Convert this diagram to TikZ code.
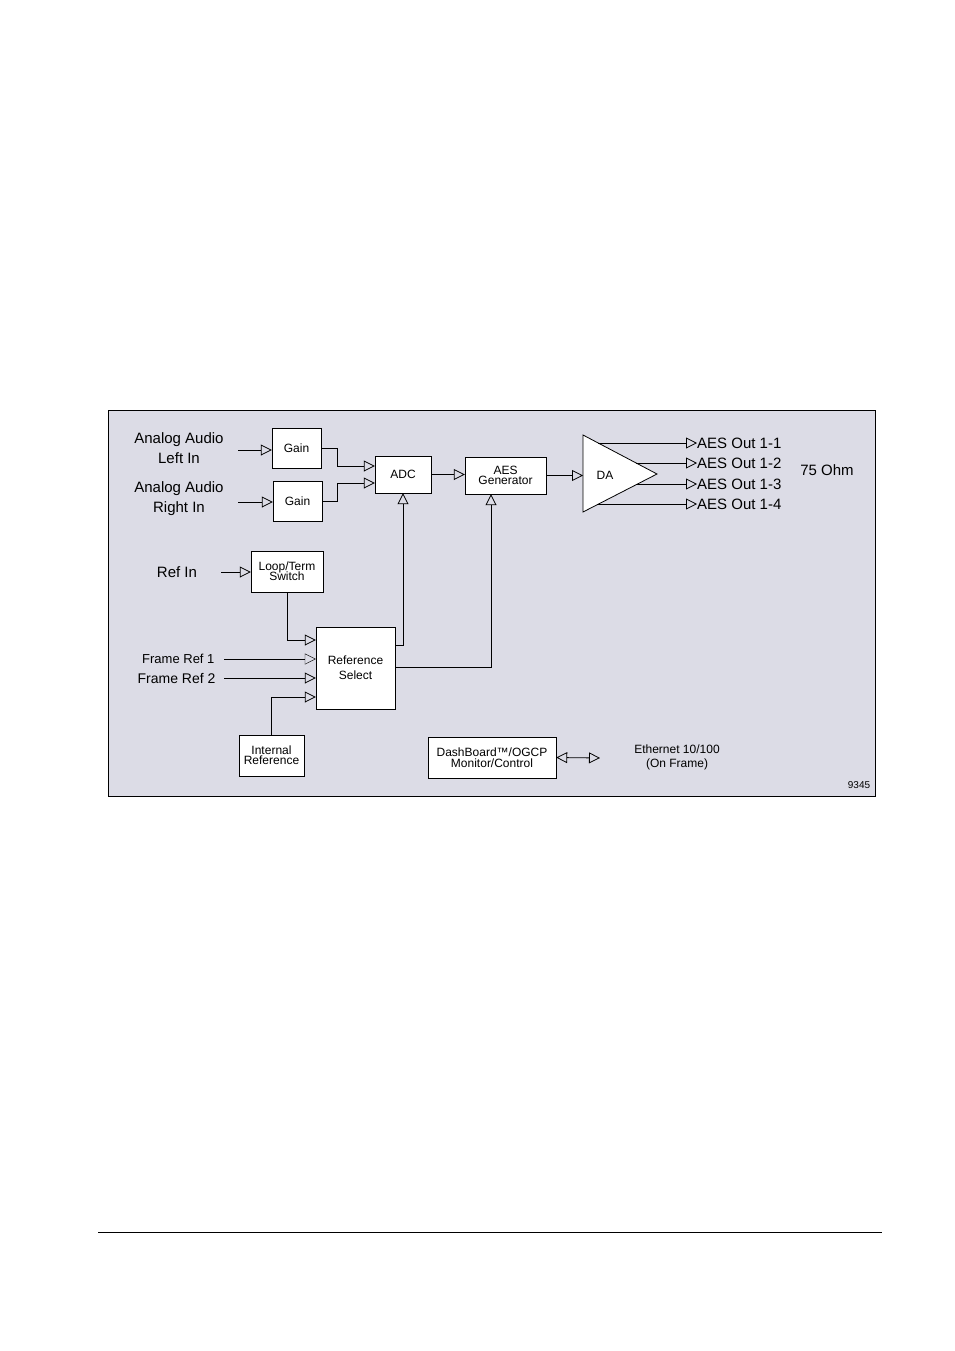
\documentclass[tikz,border=0pt]{standalone}
\usepackage{fontspec}
\setmainfont{Liberation Sans}
\usetikzlibrary{arrows.meta}
\usetikzlibrary{positioning}
\definecolor{panel}{RGB}{220,220,230}
\tikzset{
  blk/.style={draw, fill=white, inner sep=1pt, align=center, font=\fontsize{12}{13}\selectfont},
  lbl/.style={align=center, font=\fontsize{15}{20}\selectfont},
  sig/.style={-{Triangle[open,length=11pt,width=11pt]}, line width=0.8pt},
}
\begin{document}
\begin{tikzpicture}[x=1pt,y=-1pt]
  \useasboundingbox (0,0) rectangle (954,1351);
  \draw[line width=1pt, fill=panel] (108,410) rectangle (875,796);
  \draw[line width=0.6pt] (98,1232) -- (882,1232);

  % blocks
  \node[blk, minimum width=49pt, minimum height=40pt] (G1) at (296.5,448) {Gain};
  \node[blk, minimum width=49pt, minimum height=40pt] (G2) at (297.5,501) {Gain};
  \node[blk, minimum width=56pt, minimum height=37pt] (ADC) at (403,474.5) {ADC};
  \node[blk, minimum width=81pt, minimum height=37pt] (AES) at (505.5,475.5) {AES\\[-3pt]Generator};
  \node[blk, minimum width=72pt, minimum height=41pt] (LT) at (287,571.5) {Loop/Term\\[-3pt]Switch};
  \node[blk, minimum width=79pt, minimum height=82pt] (RS) at (355.5,668) {Reference\\[2pt]Select};
  \node[blk, minimum width=65pt, minimum height=41pt] (IR) at (271.5,755.5) {Internal\\[-3pt]Reference};
  \node[blk, minimum width=128pt, minimum height=41pt] (DB) at (492,757.5) {DashBoard™/OGCP\\[-2pt]Monitor/Control};
  \draw[line width=0.8pt, fill=white] (583,435) -- (657,474) -- (583,512) -- cycle;
  \node[font=\fontsize{12}{13}\selectfont] (DA) at (605,475) {DA};

  % labels
  \node[lbl] (AL) at (179,448) {Analog Audio\\Left In};
  \node[lbl] (AR) at (179,499) {Analog Audio\\Right In};
  \node[lbl] (RI) at (177,572) {Ref In};
  \node[lbl, anchor=east, font=\fontsize{13}{15}\selectfont] (F1) at (218,659) {Frame Ref 1};
  \node[lbl, anchor=east, font=\fontsize{14}{15}\selectfont] (F2) at (219,678) {Frame Ref 2};
  \node[lbl] (OHM) at (827,470) {75 Ohm};
  \node[lbl, font=\fontsize{12}{14}\selectfont] (ETH) at (677,757) {Ethernet 10/100\\(On Frame)};
  \node[font=\fontsize{10}{11}\selectfont] (NUM) at (859,785) {9345};
  \foreach \y/\n in {443/1,463/2,484/3,504/4}
    \node[lbl, anchor=west, inner sep=0pt] (O\n) at (697,\y) {AES Out 1-\n};

  % coordinates
  \coordinate (inL) at (238,450);
  \coordinate (inR) at (238,502);
  \coordinate (inRef) at (221,572);
  \coordinate (eth) at (600,758);

  % connectors
  \draw[sig] (inL) -- (G1.west |- inL);
  \draw[sig] (inR) -- (G2.west |- inR);
  \draw[sig] (G1.east) -| (337,466) -- (ADC.west |- 0,466);
  \draw[sig] (G2.east) -| (337,483) -- (ADC.west |- 0,483);
  \draw[sig] (ADC.east) -- (AES.west |- ADC.east);
  \draw[sig] (AES.east) -- (583,475.5);
  \draw[sig] (598,443) -- (O1.west);
  \draw[sig] (636,463) -- (O2.west);
  \draw[sig] (636,484) -- (O3.west);
  \draw[sig] (598,504) -- (O4.west);
  \draw[sig] (inRef) -- (LT.west |- inRef);
  \draw[sig] (LT.south) |- (RS.west |- 0,640);
  \draw[sig, line width=0.4pt] (F1.east) ++(6,0) -- (RS.west |- F1.east);
  \draw[sig] (F2.east) ++(5,0) -- (RS.west |- F2.east);
  \draw[sig] (IR.north) |- (RS.west |- 0,697);
  \draw[sig] (RS.east |- 0,645) -| (ADC.south);
  \draw[sig] (RS.east |- 0,667) -| (AES.south -| 491,0);
  \draw[sig, {Triangle[open,length=11pt,width=11pt]}-{Triangle[open,length=11pt,width=11pt]}] (DB.east) -- (eth);
\end{tikzpicture}
\end{document}
